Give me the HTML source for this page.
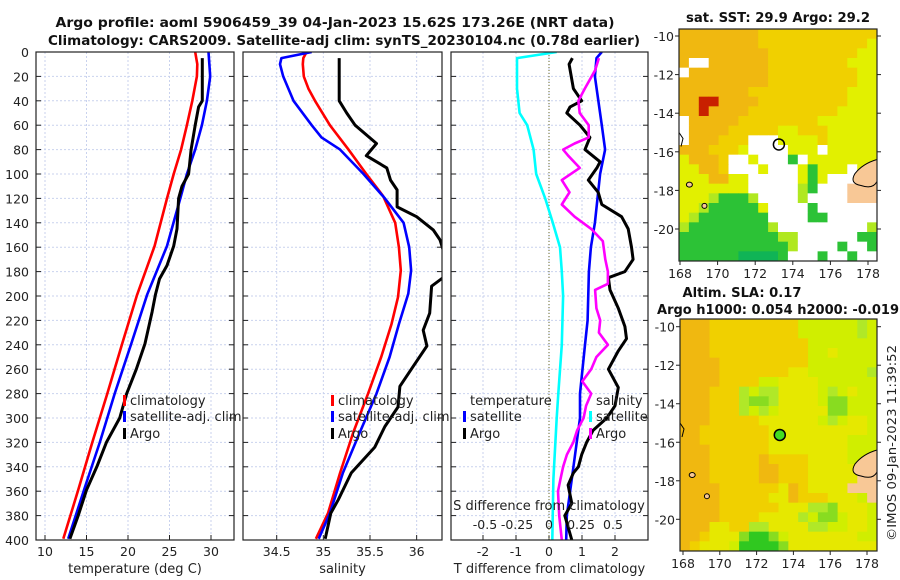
<!DOCTYPE html>
<html><head><meta charset="utf-8"><style>
html,body{margin:0;padding:0;background:#fff;width:900px;height:580px;overflow:hidden}
svg{display:block;font-family:"DejaVu Sans","Liberation Sans",sans-serif}
</style></head><body>
<svg id="fig" width="900" height="580" viewBox="0 0 900 580" xmlns="http://www.w3.org/2000/svg">
<defs>
<clipPath id="c1"><rect x="36" y="52" width="198" height="488"/></clipPath>
<clipPath id="c2"><rect x="243" y="52" width="199" height="488"/></clipPath>
<clipPath id="c3"><rect x="451" y="52" width="197" height="488"/></clipPath>
</defs>
<g font-weight="bold" font-size="13" text-anchor="middle" fill="#111">
<text x="335" y="27" textLength="559" lengthAdjust="spacingAndGlyphs">Argo profile: aoml 5906459_39 04-Jan-2023 15.62S 173.26E (NRT data)</text>
<text x="344" y="45" textLength="592" lengthAdjust="spacingAndGlyphs">Climatology: CARS2009. Satellite-adj clim: synTS_20230104.nc (0.78d earlier)</text>
<text x="778" y="22" textLength="184" lengthAdjust="spacingAndGlyphs">sat. SST: 29.9 Argo: 29.2</text>
<text x="742" y="297" textLength="119" lengthAdjust="spacingAndGlyphs">Altim. SLA: 0.17</text>
<text x="778" y="314" textLength="242" lengthAdjust="spacingAndGlyphs">Argo h1000: 0.054 h2000: -0.019</text>
</g>
<g id="plots"></g>
<text x="0" y="0" font-size="12.5" fill="#222" transform="translate(896,541) rotate(-90)" textLength="196" lengthAdjust="spacingAndGlyphs">©IMOS 09-Jan-2023 11:39:52</text>
</svg>
<script>
// ---------- data ----------
const depthTicks = [0,20,40,60,80,100,120,140,160,180,200,220,240,260,280,300,320,340,360,380,400];
const tempTicks = [10,15,20,25,30];
const salTicks = [34.5,35,35.5,36];
const tdiffTicks = [-2,-1,0,1,2];
const sdiffTicks = [-0.5,-0.25,0,0.25,0.5];
const sdiffTickLabels = ["-0.5","-0.25","0","0.25","0.5"];

const climTDepth = [0,10,20,40,60,80,100,120,159,199,239,280,320,359,399];
const climT = [28.1,28.35,28.3,27.75,27.1,26.4,25.5,24.7,23.2,21.1,19.3,17.5,15.7,14.0,12.2];
const satTDepth = [0,20,40,60,80,100,120,159,199,239,280,320,359,399];
const satT = [29.7,29.9,29.5,28.9,28.1,27.1,26.3,24.7,22.3,20.4,18.4,16.6,14.7,12.8];
const argoTDepth = [5,40,45,60,80,100,110,120,145,159,175,186,199,213,239,260,280,300,320,339,359,380,399];
const argoT = [28.95,28.95,28.5,28.1,27.6,27.3,26.5,26.1,25.9,25.5,24.7,23.8,23.3,22.9,22.05,21.0,19.84,19.0,17.4,16.3,15.0,14.0,13.0];

const climSDepth = [0,5,10,20,30,40,60,80,100,118,140,160,179,201,223,250,280,312,345,378,399];
const climS = [34.82,34.785,34.78,34.79,34.84,34.91,35.07,35.27,35.46,35.64,35.77,35.81,35.83,35.80,35.73,35.62,35.48,35.32,35.18,35.05,34.92];
const satSDepth = [0,5,10,20,40,60,70,80,100,120,140,160,179,198,223,250,280,312,345,378,399];
const satS = [34.875,34.55,34.535,34.57,34.68,34.875,34.98,35.18,35.43,35.66,35.86,35.92,35.94,35.91,35.81,35.71,35.57,35.39,35.21,35.07,34.95];
const argoSDepth = [5,40,50,60,75,85,95,105,113,127,135,146,154,166,175,184,192,214,228,241,258,274,291,307,324,345,367,378,399];
const argoS = [35.17,35.17,35.25,35.34,35.57,35.46,35.68,35.72,35.79,35.79,36.0,36.18,36.25,36.3,36.4,36.3,36.16,36.14,36.07,36.11,35.96,35.82,35.80,35.66,35.55,35.3,35.16,35.08,35.02];

const satTdDepth = [0,5,20,60,80,100,120,140,160,180,220,240,280,300,350,380,400];
const satTd = [1.6,1.44,1.39,1.6,1.7,1.55,1.47,1.39,1.27,1.21,1.17,1.09,0.94,0.94,0.69,0.54,0.52];
const argoTdDepth = [5,10,30,40,45,50,60,70,80,90,95,105,115,125,135,145,160,170,180,185,195,210,225,235,245,260,275,290,300,310,320,330,340,345,355,370,380,400];
const argoTd = [0.71,0.61,0.74,0.99,0.64,0.54,0.94,1.24,1.09,1.55,1.45,1.19,1.49,1.6,2.2,2.4,2.5,2.55,2.3,1.8,1.85,2.1,2.3,2.35,2.1,1.8,2.1,2.0,1.75,1.34,1.14,0.99,0.89,0.74,0.58,0.69,0.48,0.69];
const satSdDepth = [0,5,30,50,60,80,100,120,140,160,180,200,240,280,300,350,400];
const satSd = [0.06,-0.25,-0.25,-0.23,-0.17,-0.12,-0.10,-0.03,0.03,0.086,0.10,0.11,0.10,0.073,0.06,0.034,0.026];
const argoSdDepth = [5,15,30,40,50,60,70,75,80,85,95,105,115,125,135,145,155,170,180,190,195,210,220,230,240,250,260,270,280,290,300,310,320,330,340,350,360,380,400];
const argoSd = [0.39,0.36,0.28,0.23,0.24,0.31,0.31,0.20,0.11,0.15,0.24,0.10,0.16,0.10,0.20,0.33,0.42,0.44,0.46,0.46,0.36,0.37,0.40,0.39,0.46,0.37,0.33,0.26,0.33,0.29,0.27,0.22,0.19,0.14,0.11,0.09,0.07,0.08,0.10];

const lonTicks = [168,170,172,174,176,178];
const latTicks = [-10,-12,-14,-16,-18,-20];
const sstGrid = [
"OOOOOOOOoooooooooooo","OOOOOOOOoooooooooooy","OOOOOOOOOoooooooooyy","OWWOOOOOOooooooooyyy",
"WOOOOOOOOoooooooooyy","OOOOOOOOOoooooooooyy","OOOOOOOooooooooooyyy","OORROOOOoooooooooyyy",
"OOROOOOoooooooooyyyy","WOOOOOooooooooyyyyyy","WOOOOoooooyyoooyyyyy","WOOOoooWWWyyyyoyyyyy",
"OOOoooyWWWWyyyWyyyyy","yOOOoWWyWWWGWyyyyyyy","yyOOoWWWyWWWyGyyyWyL","yyyOOyyWWWWWyGyWWWLL",
"yyyyyyyWWWWWgGWWWLLL","yyygGGGgWWWWgWWWWLLL","yygGGGGGyWWWWGWWWWWW","ygGGGGGGGWWWWGGWWWWW",
"gGGGGGGGGgWWWWWWWWWg","GGGGGGGGGGggWWWWWWGG","GGGGGGGGGGGgWWWWGWWG","GGGGGGDDDDGWWWGWWGWW"];
const slaGrid = [
"OOOooooooooollllllgl","OOOooooooooollllllgl","OOOoooooooooolllllll","OOOoooooooooollyllll",
"OOOOooooooooolllllll","OOOOoooooooyyllllllg","OOOOoooollyyyyllllll","OOOoooglggyyyylglyll",
"OOOooogGGgyyyylGGlll","OOOoooglglyyyyyGGlll","OOOoooooyyyyyylglyyl","OOoooooooyyyyyyyyyyl",
"OOoooooooyyyyyyyylll","OOOooooooyyyyyyyylll","OOOoooooOooooyyyylll","OOOoooooOOoooyyyyyLL",
"OOOoooooOOoooyyyyyLL","OOOOooooooyOoyyyyLLL","OOOOoooooyyOoooyyylL","OOOOooooooyyyggGyyyl",
"OOOOooooyyyyglGGlyyl","OOOyyooggyyyyggllyyl","OOoyyyGDDGlyyyyyyyll","OoyyylDDDDGyyyyyyyyy"];
const argoLon = 173.26, argoLat = -15.62;

// ---------- scales ----------
const NS = "http://www.w3.org/2000/svg";
const root = document.getElementById('plots');
const yD = d => 52 + d*1.22;
const xT = v => 45 + (v-10)*8.3;
const xS = v => 276.7 + (v-34.5)*93.3;
const xD = v => 549 + v*33;
const xDS = v => 549 + v*128;
function el(tag, attrs, parent){ const e=document.createElementNS(NS,tag); for(const k in attrs) e.setAttribute(k,attrs[k]); (parent||root).appendChild(e); return e; }

const panels = [
 {x0:36,x1:234,clip:'c1',ticks:tempTicks,labels:tempTicks.map(String),sx:xT,title:'temperature (deg C)',name:'temperature'},
 {x0:243,x1:442,clip:'c2',ticks:salTicks,labels:salTicks.map(String),sx:xS,title:'salinity',name:'salinity'},
 {x0:451,x1:648,clip:'c3',ticks:tdiffTicks,labels:tdiffTicks.map(String),sx:xD,title:'T difference from climatology',name:'difference'}
];
panels.forEach((p,pi)=>{
  const g = el('g',{});
  
  
  el('rect',{x:p.x0,y:52,width:p.x1-p.x0,height:488,fill:'#fff'},g);
  depthTicks.forEach(d=>{
    const l = el('line',{x1:p.x0,x2:p.x1,y1:yD(d),y2:yD(d),stroke:'#c9d2ee','stroke-width':1,'stroke-dasharray':'2,2'},g);
    
    
    el('line',{x1:p.x0,x2:p.x0+5,y1:yD(d),y2:yD(d),stroke:'#222'},g);
    el('line',{x1:p.x1-5,x2:p.x1,y1:yD(d),y2:yD(d),stroke:'#222'},g);
    if(pi===0){
      const t = el('text',{x:29,y:yD(d)+5,'font-size':12.5,'text-anchor':'end',fill:'#222'},g);
      t.textContent = d;
      
      
    }
  });
  p.ticks.forEach((v,i)=>{
    const x = p.sx(v);
    const l = el('line',{x1:x,x2:x,y1:52,y2:540,stroke:'#c9d2ee','stroke-dasharray':'2,2'},g);
    
    
    el('line',{x1:x,x2:x,y1:535,y2:540,stroke:'#222'},g);
    const t = el('text',{x:x,y:556,'font-size':12.5,'text-anchor':'middle',fill:'#222'},g);
    t.textContent = p.labels[i];
    
    
  });
  const tt = el('text',{x:(p.x0+p.x1)/2,y:573,'font-size':13,'text-anchor':'middle',fill:'#222'},g);
  tt.textContent = p.title;
  
  
});

function series(ds, vs, sx, color, clip, name, w){
  const pts = ds.map((d,i)=> sx(vs[i]).toFixed(1)+','+yD(d).toFixed(1)).join(' ');
  const pl = el('polyline',{points:pts,fill:'none',stroke:color,'stroke-width':w||2.6,'stroke-linejoin':'round','clip-path':'url(#'+clip+')'});
  
  
}
const zl = el('line',{x1:xD(0),x2:xD(0),y1:52,y2:540,stroke:'#6b6b2a','stroke-width':1,'stroke-dasharray':'1,2'});



series(climTDepth, climT, xT, '#ff0000', 'c1', 'climatology-temperature-line');
series(satTDepth, satT, xT, '#0000ff', 'c1', 'satellite-temperature-line');
series(argoTDepth, argoT, xT, '#000000', 'c1', 'argo-temperature-line', 3);
series(climSDepth, climS, xS, '#ff0000', 'c2', 'climatology-salinity-line');
series(satSDepth, satS, xS, '#0000ff', 'c2', 'satellite-salinity-line');
series(argoSDepth, argoS, xS, '#000000', 'c2', 'argo-salinity-line', 3);
series(satSdDepth, satSd, xDS, '#00ffff', 'c3', 'satellite-salinity-difference-line');
series(satTdDepth, satTd, xD, '#0000ff', 'c3', 'satellite-temperature-difference-line');
series(argoTdDepth, argoTd, xD, '#000000', 'c3', 'argo-temperature-difference-line', 3);
series(argoSdDepth, argoSd, xDS, '#ff00ff', 'c3', 'argo-salinity-difference-line');

panels.forEach(p=>{
  const r = el('rect',{x:p.x0,y:52,width:p.x1-p.x0,height:488,fill:'none',stroke:'#222','stroke-width':1.2});
  
  
});

const sdt = el('text',{x:549,y:510,'font-size':13,'text-anchor':'middle',fill:'#222'});
sdt.textContent = 'S difference from climatology';


sdiffTicks.forEach((v,i)=>{
  const t = el('text',{x:xDS(v),y:529,'font-size':12.5,'text-anchor':'middle',fill:'#222'});
  t.textContent = sdiffTickLabels[i];
  
  
});

function legend(x, y, color, label){
  const g = el('g',{});
  
  
  if(color) el('rect',{x:x-7,y:y-10,width:3,height:11,fill:color},g);
  const t = el('text',{x:x,y:y,'font-size':13,fill:'#222'},g);
  t.textContent = label;
}
legend(130,405,'#ff0000','climatology');
legend(130,421,'#0000ff','satellite-adj. clim');
legend(130,438,'#000000','Argo');
legend(338,405,'#ff0000','climatology');
legend(338,421,'#0000ff','satellite-adj. clim');
legend(338,438,'#000000','Argo');
legend(470,405,null,'temperature');
legend(470,421,'#0000ff','satellite');
legend(470,438,'#000000','Argo');
legend(596,405,null,'salinity');
legend(596,421,'#00ffff','satellite');
legend(596,438,'#ff00ff','Argo');

// maps
const sstColors = {O:'#f0b810',o:'#f0d000',y:'#e2f000',g:'#b0e820',G:'#2cc236',D:'#10b456',W:'#ffffff',R:'#c82000',L:'#f8c896'};
const slaColors = {O:'#f0b810',o:'#f0d000',y:'#e6e800',l:'#d0ee00',g:'#b0e828',G:'#88dc20',D:'#30c820',L:'#f8c896'};
function map(grid, colors, x0, y0, w, h, lon0, dlon, lat0, dlat, name, marker){
  const g = el('g',{});
  
  
  const rows = grid.length, cols = grid[0].length;
  const cw = w/cols, ch = h/rows;
  grid.forEach((row,r)=>{ [...row].forEach((c,ci)=>{
    el('rect',{x:(x0+ci*cw).toFixed(2),y:(y0+r*ch).toFixed(2),width:(cw+0.4).toFixed(2),height:(ch+0.4).toFixed(2),fill:colors[c]},g);
  });});
  const lx = v => lon0 + (v-168)*dlon;
  const ly = v => lat0 + (-10-v)*dlat;
  el('path',{d:`M${x0+w} ${ly(-16.4)} q-14 4 -22 14 q-6 10 6 12 q12 4 16 -4 z`,fill:'#f8c896',stroke:'#000','stroke-width':1},g);
  el('path',{d:`M${x0} ${ly(-15)} l4 6 l-2 8`,fill:'none',stroke:'#000','stroke-width':1},g);
  el('ellipse',{cx:lx(168.5),cy:ly(-17.7),rx:3,ry:2.5,fill:'#f8c896',stroke:'#000'},g);
  el('ellipse',{cx:lx(169.3),cy:ly(-18.8),rx:2.5,ry:2.5,fill:'#f8c896',stroke:'#000'},g);
  el('rect',{x:x0,y:y0,width:w,height:h,fill:'none',stroke:'#222','stroke-width':1.2},g);
  lonTicks.forEach(v=>{
    el('line',{x1:lx(v),x2:lx(v),y1:y0+h,y2:y0+h+4,stroke:'#222'},g);
    const t = el('text',{x:lx(v),y:y0+h+17,'font-size':12.5,'text-anchor':'middle',fill:'#222'},g);
    t.textContent = v;
    
    
  });
  latTicks.forEach(v=>{
    el('line',{x1:x0+w,x2:x0+w+4,y1:ly(v),y2:ly(v),stroke:'#222'},g);
    el('line',{x1:x0-4,x2:x0,y1:ly(v),y2:ly(v),stroke:'#222'},g);
    const t = el('text',{x:x0-5,y:ly(v)+5,'font-size':12.5,'text-anchor':'end',fill:'#222'},g);
    t.textContent = v;
    
    
  });
  const m = el('circle',{cx:lx(argoLon),cy:ly(argoLat),r:5.5,fill:marker,stroke:'#000','stroke-width':1.5},g);
  
  
}
map(sstGrid, sstColors, 679, 29, 198, 232, 680, 18.8, 36, 19.3, 'sst-map', 'none');
map(slaGrid, slaColors, 680, 319, 197, 232, 683, 18.4, 326.7, 19.26, 'sla-map', '#44dd22');
</script>
</body></html>
